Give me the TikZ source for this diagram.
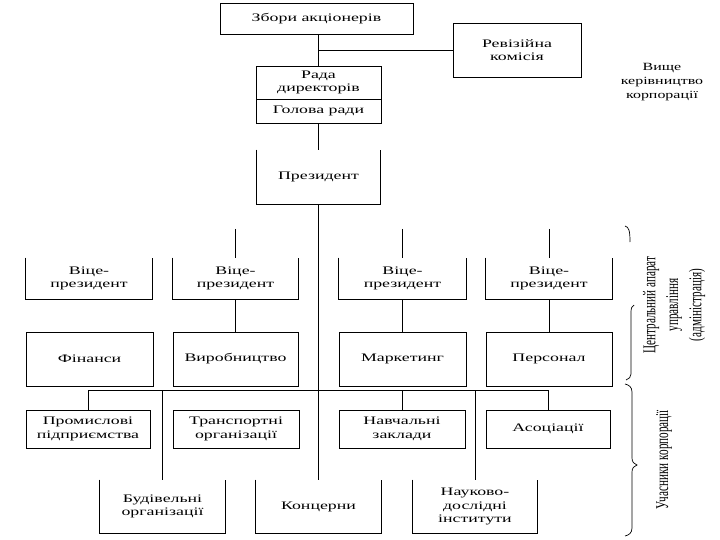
\documentclass[tikz,border=0pt]{standalone}
\usepackage{fontspec}
\setmainfont[FakeStretch=1.55]{Liberation Serif}
\newfontfamily\rotfont[FakeStretch=0.62]{Liberation Serif}
\newfontfamily\sidefont[FakeStretch=1.45]{Liberation Serif}
\newcommand\mkbox[7][]{%
  \node[bx,#1,minimum width={#5pt-#3pt},minimum height={#6pt-#4pt}] (#2) at ({(#3+#5)/2},{(#4+#6)/2}) {#7};}
\newcommand\openframe[1]{\draw[frame] (#1.north west) -- (#1.south west) -- (#1.south east) -- (#1.north east);}
\begin{document}
\begin{tikzpicture}[x=1pt,y=-1pt,
  bx/.style={draw,line width=0.8pt,inner sep=1pt,align=center,font=\fontsize{11.5}{13.5}\selectfont},
  open/.style={draw=none},
  frame/.style={line width=0.8pt},
  link/.style={line width=0.8pt},
  brace/.style={line width=0.7pt},
  rot/.style={rotate=90,inner sep=0pt,font=\rotfont\fontsize{18}{20}\selectfont},
  side/.style={align=center,inner sep=0pt,font=\sidefont\fontsize{11}{14}\selectfont}]
\path[use as bounding box,fill=white] (0,0) rectangle (720,540);
% top
\mkbox{zbory}{220}{3}{413}{34}{Збори акціонерів}
\mkbox{rev}{453}{23}{581}{77}{Ревізійна\\комісія}
\mkbox{rada}{256}{66}{381}{99}{Рада\\директорів}
\mkbox{holova}{256}{99}{381}{123}{Голова ради}
\mkbox[open]{pres}{257}{150}{380}{204}{Президент}
\openframe{pres}
% vice presidents
\mkbox[open]{vpa}{26}{258}{152}{299}{Віце-\\президент}
\mkbox[open]{vpb}{173}{258}{298}{299}{Віце-\\президент}
\mkbox[open]{vpc}{339}{258}{466}{299}{Віце-\\президент}
\mkbox[open]{vpd}{486}{258}{612}{299}{Віце-\\президент}
\openframe{vpa}\openframe{vpb}\openframe{vpc}\openframe{vpd}
% departments
\mkbox{fin}{26}{332}{153}{386}{Фінанси}
\mkbox{vyr}{173}{332}{298}{386}{Виробництво}
\mkbox{mark}{339}{332}{466}{386}{Маркетинг}
\mkbox{pers}{486}{332}{612}{386}{Персонал}
% participants
\mkbox{prom}{26}{410}{150}{448}{Промислові\\підприємства}
\mkbox{trans}{173}{410}{299}{448}{Транспортні\\організації}
\mkbox{navch}{339}{410}{465}{448}{Навчальні\\заклади}
\mkbox{asoc}{486}{410}{610}{448}{Асоціації}
\mkbox[open]{bud}{100}{480}{225}{533}{Будівельні\\організації}
\mkbox[open]{konc}{256}{480}{381}{533}{Концерни}
\mkbox[open]{nauk}{413}{480}{537}{533}{Науково-\\дослідні\\інститути}
\openframe{bud}\openframe{konc}\openframe{nauk}
% connectors
\draw[link] (rada.north |- zbory.south) -- (rada.north);
\draw[link] (rev.west) -- (rev.west -| rada.north);
\draw[link] (holova.south) -- (pres.north);
\draw[link] (pres.south) -- (konc.north);
\coordinate (tb) at (235.5,229);
\coordinate (tc) at (402.5,229);
\coordinate (td) at (549,229);
\draw[link] (tb) -- (vpb.north);
\draw[link] (tc) -- (vpc.north);
\draw[link] (td) -- (vpd.north);
\draw[link] (vpb.south) -- (vyr.north);
\draw[link] (vpc.south) -- (mark.north);
\draw[link] (vpd.south) -- (pers.north);
\coordinate (barL) at (88,390);
\coordinate (barR) at (549,390);
\draw[link] (barL) -- (barR);
\draw[link] (prom.north) -- (prom.north |- barL);
\draw[link] (navch.north) -- (navch.north |- barL);
\draw[link] (asoc.north) -- (asoc.north |- barL);
\draw[link] (bud.north) -- (bud.north |- barL);
\draw[link] (nauk.north) -- (nauk.north |- barL);
% braces
\draw[brace] (625,226) .. controls (629,227) and (630,231) .. (630,242);
\draw[brace] (634,305) .. controls (632,306) and (631,308) .. (631,312) -- (631,374) .. controls (631,377) and (629,379) .. (626,380);
\draw[brace] (625,384) .. controls (629,385) and (632,387) .. (632,392) -- (632,458) .. controls (632,462) and (634,464) .. (637,465) .. controls (634,466) and (632,468) .. (632,472) -- (632,528) .. controls (632,533) and (629,535) .. (625,536);
% side labels
\node[side] (top) at (662,82) {Вище\\керівництво\\корпорації};
\node[rot] (ca) at (651,305) {Центральний апарат};
\node[rot] (cb) at (674,305) {управління};
\node[rot] (cc) at (697,305) {(адміністрація)};
\node[rot] (uc) at (664,460) {Учасники корпорації};
\end{tikzpicture}
\end{document}
